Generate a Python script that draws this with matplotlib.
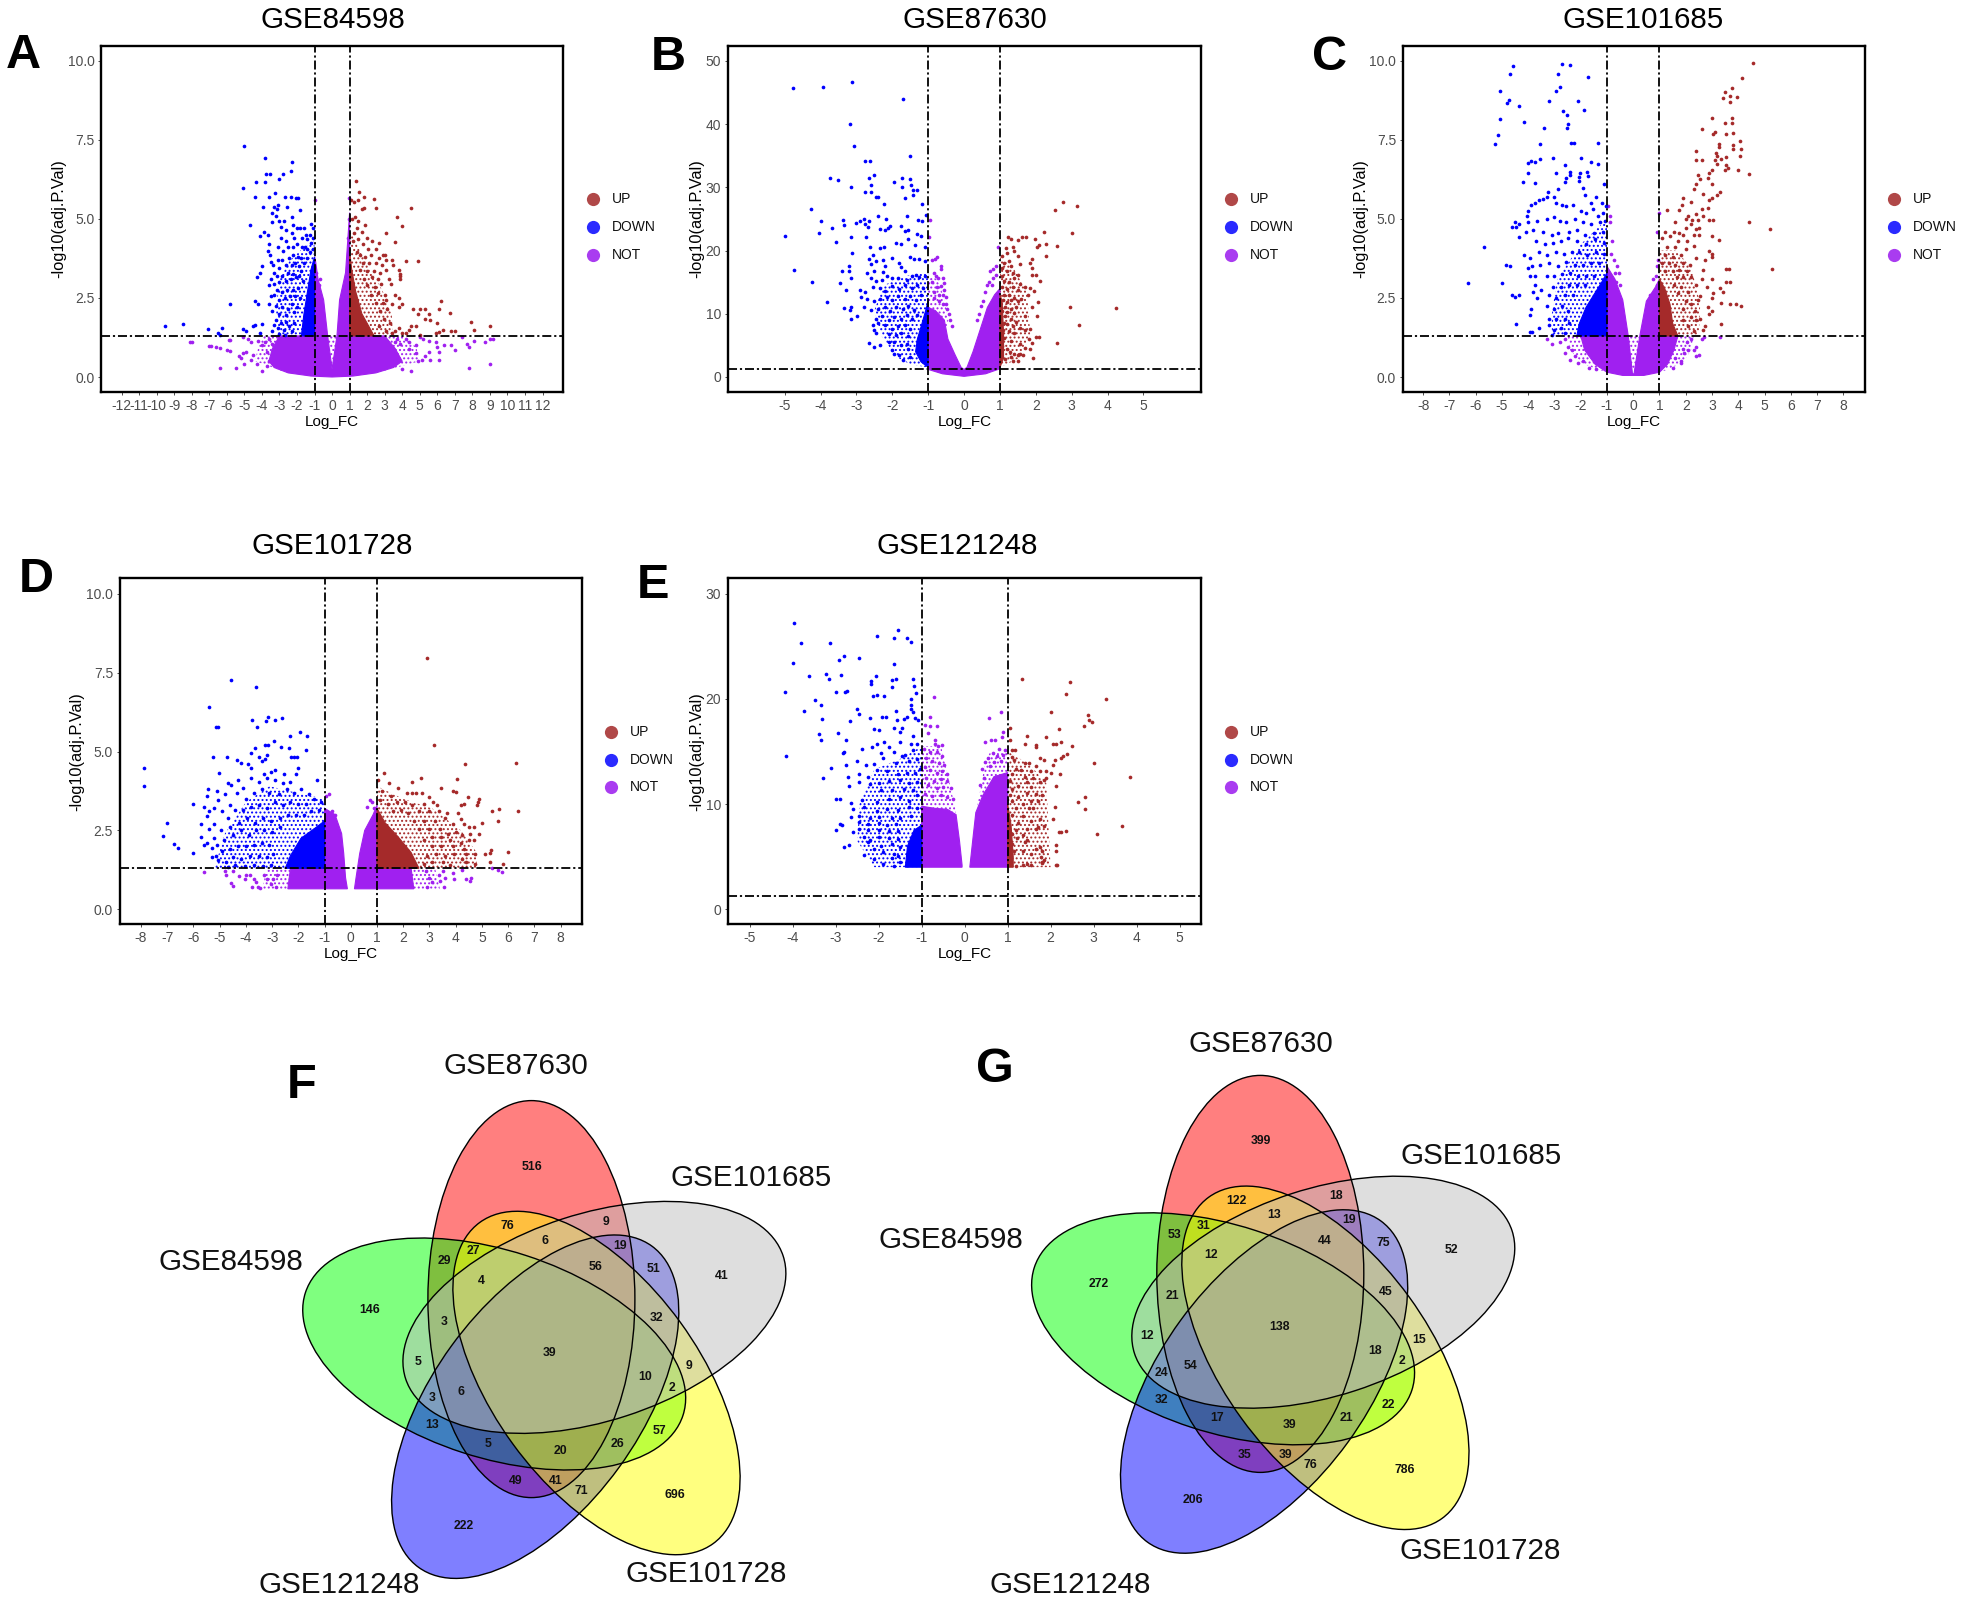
import numpy as np
import matplotlib
matplotlib.use('Agg')
import matplotlib.pyplot as plt
from matplotlib.lines import Line2D
from matplotlib.patches import Ellipse, Polygon

plt.rcParams['font.family'] = ['Liberation Sans', 'DejaVu Sans']
plt.rcParams['axes.unicode_minus'] = False
plt.rcParams['hatch.linewidth'] = 0.9

W, H = 1965, 1602
UP, DOWN, NOT = '#a52a2a', '#0000ff', '#a020f0'
LEG_UP, LEG_DOWN, LEG_NOT = '#b04848', '#2a2aff', '#a93cf0'

# ---- panel A: GSE84598 (log FC, -log10 p)
a_ticks_x = list(range(-12, 13))
a_ticks_y = [0, 2.5, 5, 7.5, 10]
a_not_fill = [(-3.6,.5),(-3.3,.3),(-2.5,.13),(-1.2,.03),(0,0),(1.2,.03),(2.5,.13),(3.5,.3),(4,.5),(3.6,.9),(3,1.3),(1,1.3),(1,5.2),
              (.93,4.6),(.77,3.3),(.43,2.44),(.28,1.3),(0,.25),(-.25,1.3),(-.48,2.44),(-.8,3.1),(-.95,3.7),(-1,3.8),(-1,1.3),(-3,1.3),(-3.4,.9)]
a_not_halo = [(-4.4,.5),(-3.6,.35),(-3,.2),(3,.2),(4,.35),(5,.5),(4.8,.95),(4,1.3),(-3.9,1.3),(-4.2,.95)]
a_down_fill = [(-1,1.3),(-1,3.8),(-1.2,3.4),(-1.4,2.7),(-1.6,2),(-1.75,1.3)]
a_down_halo = [(-1,1.3),(-1,4.3),(-1.6,4.1),(-2.4,3.7),(-3,3.1),(-3.2,2.2),(-3.1,1.3)]
a_up_fill = [(1,1.3),(1,4),(1.12,3.4),(1.35,2.7),(1.7,2),(2.1,1.6),(2.4,1.3)]
a_up_halo = [(1,1.3),(1,4.7),(1.5,4.1),(2.2,3.4),(2.9,2.7),(3.4,2),(3.5,1.3)]
a_not_dots = [(-8.1,1.1),(-8,1.1),(-7,.97),(-6.9,.97),(-6.6,.95),(-6.4,.92),(-6,.85),(-5.8,.83),(-5.9,1.18),(-5.8,1.17),(-5.1,1.27),(-4.8,1.2),(-4.6,1.1),
    (-4.2,1.15),(-4.9,.8),(-5.1,.75),(-5.2,.6),(-5.3,.68),(-4.5,.7),(-4.6,.55),(-4.3,.4),(-6.4,.3),(-5.5,.3),(-5,.42),(-4,.2),(-3.7,.35),(-3.6,.5),(-4,1),(-3.8,1.1),
    (-3.6,1.2),(-3.4,1.05),(-3.7,.8),(-.95,5.6),(-.9,3.3),(-.7,3.1),(-.72,2.9),(.95,5.65),(.97,5),(.9,4.4),(5,1.25),(5.2,1.2),(5.5,1.15),(5.9,1.1),(6,.95),
    (6.1,.8),(6.4,1),(6.8,1),(7,.85),(7.4,1.25),(7.7,1.05),(7.8,.95),(8.1,1.13),(8.7,1.1),(9.2,1.2),(9,1.2),(5.5,.8),(5.3,.65),(5.6,.55),(5.1,.55),(4.9,.5),(4.8,1),(4.4,.9),(4.2,1.2),
    (4.8,.75),(4.5,.2),(4,.25),(3.7,1.2),(3.6,1.1),(7.8,.27),(9,.42),(6.1,.55),(3.9,1.05),(4.4,1.1)]
a_down_dots = [(-5,7.3),(-3.8,6.93),(-2.3,6.8),(-2.33,6.52),(-2.78,6.43),(-3.75,6.43),(-3.55,6.43),(-3.05,6.25),(-4.34,6.16),(-3.84,6.16),(-5.06,5.98),(-3.26,5.83),
    (-4.37,5.7),(-3.58,5.7),(-2.66,5.7),(-2.35,5.68),(-2.06,5.66),(-1.92,5.66),(-3.96,5.37),(-3.3,5.37),(-3.1,5.43),(-3.15,5.3),(-3.4,5.2),(-3.2,5.1),(-2.55,5.37),(-1.8,5.27),
    (-3,4.95),(-2.75,4.95),(-2.3,5.05),(-3.4,4.9),(-4.7,4.8),(-3.9,4.6),(-3.65,4.5),(-4.1,4.45),(-2.9,4.75),(-2.6,4.65),(-2.2,4.8),(-2,4.7),(-1.85,4.7),(-1.6,4.7),(-1.2,4.85),
    (-1.1,4.7),(-2.9,4.4),(-2.6,4.3),(-2.3,4.55),(-2.15,4.4),(-1.7,4.4),(-1.5,4.5),(-1.4,4.35),(-1.25,4.5),(-1.1,4.4),(-1.2,4.25),(-3.6,4.2),(-3.65,4),(-3.55,3.85),(-3.5,3.65),
    (-3.1,4.1),(-2.8,4),(-2.5,4.1),(-2.2,4.1),(-2,4.2),(-1.7,4.1),(-1.55,4.1),(-1.4,4.05),(-1.25,3.95),(-1.1,4.05),(-4,3.5),(-4.1,3.3),(-4.3,3.15),(-3.35,3.55),(-3.3,3.3),(-3.1,3.7),
    (-3,3.45),(-2.85,3.7),(-2.65,3.55),(-2.45,3.75),(-2.25,3.85),(-2.3,3.55),(-2.1,3.6),(-1.95,3.8),(-1.9,3.5),(-1.75,3.75),(-1.6,3.6),(-1.45,3.75),(-3.5,3.1),(-3.6,2.9),(-3.3,2.95),
    (-3.15,3.2),(-3,3),(-2.85,3.2),(-2.65,3.05),(-2.5,3.3),(-2.35,3.1),(-2.2,3.25),(-2.05,3.15),(-1.9,3.2),(-1.75,3.35),(-1.65,3.05),(-3.5,2.55),(-3.3,2.6),(-3.15,2.75),(-3,2.45),(-2.85,2.7),
    (-2.7,2.5),(-2.55,2.75),(-2.4,2.55),(-2.25,2.75),(-2.1,2.55),(-1.95,2.8),(-1.85,2.5),(-5.8,2.3),(-4.2,2.3),(-4.4,2.4),(-3.6,2.3),(-3.4,2.1),(-3.2,2.25),(-3,2),(-2.85,2.2),(-2.65,1.95),
    (-2.5,2.15),(-2.3,2.3),(-2.15,2.05),(-2,2.2),(-9.5,1.6),(-8.5,1.68),(-7.1,1.52),(-6.3,1.54),(-6.5,1.4),(-6.4,1.33),(-5.1,1.52),(-4.9,1.45),(-4.5,1.6),(-4.4,1.65),(-4,1.68),(-4.1,1.4),
    (-3.2,1.8),(-3.3,1.65),(-3.1,1.55),(-3.4,1.45),(-2.9,1.7),(-2.75,1.5),(-2.6,1.75),(-2.45,1.6),(-2.3,1.45),(-2.15,1.7),(-3,1.35),(-2.7,1.33)]
a_up_dots = [(1.35,6.2),(1.55,5.85),(1.8,5.7),(1.5,5.6),(2.4,5.62),(1.25,5.55),(1.1,5.6),(1.7,5.3),(1.85,5.35),(2.5,5.35),(4.5,5.35),(3.7,5.07),(1.3,5.05),(1.15,5),(1.5,4.95),
    (1.9,4.8),(4,4.78),(1.4,4.7),(1.7,4.6),(1.25,4.55),(2,4.4),(3.1,4.55),(1.5,4.35),(1.2,4.3),(1.75,4.2),(2.3,4.3),(2.7,4.25),(3.6,4.28),(2.05,4.05),(2.5,4.05),(1.4,3.95),
    (2.9,3.85),(3,3.85),(1.6,3.85),(1.9,3.8),(2.2,3.85),(2.7,3.75),(3.1,3.7),(3.4,3.7),(4.2,3.68),(4.9,3.68),(1.75,3.6),(2.1,3.6),(2.5,3.6),(2.85,3.55),(3.45,3.55),(1.6,3.4),
    (2,3.35),(2.4,3.35),(2.75,3.3),(3.1,3.4),(3.8,3.4),(3.85,3.25),(3.9,3.1),(2.25,3.15),(1.85,3.1),(2.6,3.1),(3.25,3.1),(3.9,3.2),(2,2.9),(2.45,2.85),(2.8,2.95),(3,2.6),
    (3.35,2.95),(2.2,2.6),(2.6,2.65),(3.1,2.45),(3.4,2.3),(3.6,2.6),(2.9,2.35),(2.5,2.35),(2.75,2.1),(3.15,2.15),(3.8,2.5),(4,2.3),(3.8,2.2),(4.6,2.15),(5,2.15),(5.3,2.15),(4.9,2),
    (5.5,2),(5.3,1.85),(5.6,1.8),(6,1.7),(6.2,2.4),(6.1,2.15),(6.7,2.03),(7.9,1.73),(9,1.6),(8.1,1.5),(6.3,1.5),(6.8,1.45),(7,1.45),(5,1.32),(4.8,1.62),(4.5,1.6),(4.4,1.5),(4.2,1.4),
    (3.8,1.55),(3.6,1.45),(3.3,1.7),(3.05,1.45),(2.95,1.85),(2.7,1.6),(3.4,1.38),(4,1.38),(5.95,1.38),(6.1,1.43)]

# ---- panel B: GSE87630
b_ticks_x = list(range(-5, 6))
b_ticks_y = [0, 10, 20, 30, 40, 50]
b_not_fill = [(-1,1.2),(-.6,.5),(0,.1),(.6,.5),(1,1.3),(1,14),(.85,13),(.65,11),(.45,7.5),(.25,4),(.08,1.5),(0,1.2),(-.08,1.5),(-.25,3.5),(-.45,6),(-.55,9),(-.8,10.5),(-1,11)]
b_not_halo = [(-1,10.5),(-1,16),(-.75,15.5),(-.55,12.5),(-.45,9),(-.5,7)]
b_down_fill = [(-1,1.5),(-1,12),(-1.07,10.5),(-1.17,8.5),(-1.3,6),(-1.35,4),(-1.2,2.4)]
b_down_halo = [(-1,1.5),(-1,16.5),(-1.6,16),(-2.25,14.5),(-2.5,10.5),(-2.3,6.5),(-1.9,3.2),(-1.5,2)]
b_up_fill = [(1,1.5),(1,13),(1.06,12),(1.1,7),(1.1,3)]
b_up_halo = [(1,1.5),(1,19),(1.4,17),(1.75,13.5),(1.85,6.5),(1.55,3)]
b_not_dots = [(-.95,24.8),(-.97,22.2),(-.9,18.5),(-.8,18.7),(-.75,18.9),(-.65,17.5),(-.65,17),(-.85,16.5),(-.78,16),(-.72,15.6),(-.6,15.6),(-.55,14.8),(-.9,15),(-.75,14.3),(-.65,14.4),
    (-.55,13.8),(-.85,13.5),(-.7,13),(-.6,13),(-.5,12.6),(-.85,12.5),(-.7,12),(-.6,11.6),(-.5,11.5),(-.48,10.8),(-.42,10),(-.4,9),(-.35,8),(.95,20.5),(.9,17.6),(.82,17),(.72,16.8),(.88,16.2),(.8,15.6),(.7,15),(.63,14.6),
    (.78,14.5),(.58,13.4),(.52,12),(.48,11.2),(.42,10),(.36,9)]
b_down_dots = [(-4.76,45.7),(-3.94,45.8),(-3.12,46.6),(-1.71,44),(-3.18,40),(-3.06,36.5),(-2.77,34.2),(-2.63,34.1),(-1.52,34.9),(-3.74,31.4),(-3.5,31.1),(-3.14,30.1),(-2.66,31.5),(-2.5,32),
    (-2.6,30.4),(-2.77,29.2),(-2.6,29.3),(-2.46,28.5),(-2.41,28.4),(-1.95,30.9),(-1.74,30.1),(-1.72,31.5),(-1.51,31.3),(-1.48,30.4),(-1.42,29.6),(-1.3,29.5),(-1.43,28.8),(-1.65,28.3),(-2.22,27.4),
    (-1.18,27.3),(-4.26,26.6),(-1.07,25.6),(-1.6,25.4),(-2.4,25.5),(-2.17,25),(-4,24.6),(-3.38,24.9),(-3.35,24.1),(-3,24.3),(-2.9,24.6),(-2.8,25),(-2.65,24.6),(-2.77,24.2),(-2.68,23.7),(-3.67,23.5),
    (-4.03,22.7),(-5,22.3),(-3.15,22.2),(-2.74,22.2),(-3.58,21.4),(-2.34,23.4),(-2.2,23.2),(-2.06,23.9),(-2.12,23.5),(-1.76,23.9),(-1.65,23.1),(-1.57,23.2),(-1.28,24.8),(-1.18,24.7),(-1.3,22.6),
    (-1.2,22.3),(-1.89,21.2),(-1.75,21),(-1.57,21.9),(-1.38,20.9),(-1.1,20.6),(-3.12,19.6),(-2.63,20.6),(-2.33,20.4),(-2.23,20.6),(-2.53,19.3),(-2,18.8),(-1.5,19),(-1.4,18.6),(-1.25,18.6),(-1.1,18.4),
    (-4.74,16.9),(-4.24,15),(-3.82,11.9),(-3.41,16.8),(-3.2,17.6),(-3.2,16.7),(-3.14,15.6),(-3.47,14.9),(-3.28,13.8),(-2.87,12.6),(-3.34,10.9),(-3.14,11),(-3.18,10.6),(-3.14,9.2),(-2.97,9.7),
    (-2.65,18.7),(-2.6,17.8),(-2.45,18.3),(-2.25,18.5),(-2.2,17.5),(-1.8,18),(-1.75,17.4),(-1.65,16.8),(-2.7,16.5),(-2.5,16.8),(-2.25,16.6),(-2.6,15.7),(-2.45,15.2),(-2.3,15.3),(-2.15,15.9),(-2,15.7),
    (-1.85,15.6),(-1.6,15.3),(-1.45,15.9),(-1.35,16.1),(-1.25,15.8),(-1.1,16),(-2.9,13.8),(-2.75,13.5),(-2.55,14.2),(-2.35,14.1),(-2.2,13.6),(-2,14.4),(-1.8,13.9),(-1.65,14.5),(-1.45,14.1),(-1.3,14.6),(-1.15,14),
    (-2.7,12.3),(-2.5,12),(-2.35,12.4),(-2.15,12.7),(-2,12.1),(-1.85,12.8),(-1.65,12.3),(-1.5,12.8),(-1.35,12.2),(-1.2,13),(-2.8,11.1),(-2.6,10.6),(-2.4,10.8),(-2.2,11.1),(-2.05,10.4),(-1.9,11),(-1.7,10.8),
    (-1.55,11.2),(-1.4,10.6),(-2.45,9.2),(-2.3,9.7),(-2.1,9),(-1.95,9.5),(-1.75,9.2),(-1.6,9.8),(-1.45,9.1),(-1.3,9.8),(-2.55,8.2),(-2.4,8.5),(-2.2,8.2),(-2,7.6),(-1.85,8),(-1.65,8.2),(-1.5,7.6),
    (-2.5,7.5),(-2.45,6.9),(-2.1,6.8),(-1.9,6.6),(-1.75,7),(-1.55,6.5),(-2.65,5.4),(-2.5,4.8),(-2.35,5),(-2.1,5.5),(-1.95,5.5),(-1.75,5),(-1.6,5.2),(-2,4.2),(-1.95,3.7),(-1.8,3.4),(-1.7,2.7),(-1.5,3.2),(-1.55,4.5)]
b_up_dots = [(2.77,27.6),(3.15,27),(2.54,26.4),(2.24,23),(3.02,22.8),(2.6,20.7),(2.27,21.1),(2.28,19.1),(2.1,20.9),(2.02,20.6),(1.98,21.8),(1.72,22.2),(1.62,22.2),(1.49,21.6),(1.23,22.1),(1.3,21.8),
    (1.16,20.4),(1.35,20.5),(1.05,19.2),(1.2,19.6),(1.4,20),(1.5,19.1),(1.9,18.6),(1.85,18),(1.88,17.3),(1.25,18.3),(1.1,18.1),(1.05,17.3),(1.3,17.6),(1.55,17.9),(1.2,16.7),(1.35,16.4),(1.5,16.2),(1.9,16.2),(2,16.2),(1.05,16),
    (2.12,15.2),(1.1,15.2),(1.25,15),(1.4,15.6),(1.55,14.7),(1.7,14.2),(1.85,14),(1.05,14.3),(1.2,13.9),(1.35,14.2),(1.5,13.7),(1.95,13.6),(1.78,13),(1.1,13),(1.25,12.9),(1.4,12.5),(1.6,12.4),(1.08,12.2),(1.2,11.8),(1.32,12.1),(1.5,12),
    (2.05,11.8),(1.9,11),(1.15,11),(1.3,10.8),(1.45,11.1),(2.95,11.1),(4.23,10.9),(1.05,10.4),(1.2,10.2),(1.38,10.1),(2.03,9.7),(1.7,9.6),(1.15,9.6),(1.3,9.2),(1.1,8.6),(1.45,8.7),(1.2,8.3),(3.2,8.2),(1.35,8),(1.55,7.7),(1.7,7.5),(1.85,7.6),
    (1.08,7.5),(1.25,7.2),(1.4,7),(2,6.3),(2.08,6.3),(1.8,6),(1.1,6.2),(1.3,5.7),(1.55,5.2),(1.9,5.3),(2.58,5.4),(1.7,4.6),(1.85,4.4),(1.05,4.9),(1.2,4.5),(1.28,3.9),(1.4,3.7),(1.5,3.5),(1.55,3.7),(1.65,3.5),(1.3,3.2),(1.15,2.8),(1.92,3),(1.37,2.6),(1.5,2.6)]

# ---- panel C: GSE101685
c_ticks_x = list(range(-8, 9))
c_ticks_y = [0, 2.5, 5, 7.5, 10]
c_not_fill = [(-2,1.3),(-1.85,.85),(-1.45,.4),(-1,.15),(-.4,.05),(0,.05),(.4,.05),(1,.15),(1.3,.4),(1.55,.85),(1.7,1.3),(1,1.3),(1,3.1),(.85,2.85),(.5,2.4),(.25,1.3),(.03,.1),(-.03,.1),(-.19,1.3),(-.4,2.44),(-.7,3.1),(-1,3.5),(-1,1.3)]
c_not_halo = [(-2.5,1.3),(-2.4,.85),(-1.9,.4),(-1.2,.2),(1.2,.2),(1.9,.45),(2.2,.85),(2.3,1.3)]
c_down_fill = [(-1,1.3),(-1,3.3),(-1.2,3),(-1.5,2.6),(-1.8,2.2),(-2.05,1.7),(-2.15,1.3)]
c_down_halo = [(-1,1.3),(-1,5),(-2,4.2),(-2.9,3.1),(-3.1,2),(-3.1,1.3)]
c_up_fill = [(1,1.3),(1,3.1),(1.2,2.8),(1.4,2.3),(1.5,1.7),(1.7,1.3)]
c_up_halo = [(1,1.3),(1,4),(1.6,4),(2.2,3.5),(2.55,2.3),(2.5,1.3)]
c_not_dots = [(-.95,5.4),(-.9,5.1),(-.88,4.9),(-.8,4.3),(-.85,3.9),(-.75,3.7),(-.6,3.5),(-.7,3.3),(-.55,3.3),(-.65,3),(-.5,2.9),(1,5.2),(.9,4.6),(.95,3.7),(.9,3.5),(.85,3.2),(.75,3.1),(.9,2.9),(.65,2.6),
    (-3.3,1.2),(-3.1,1.05),(-2.8,1.1),(-2.6,1.2),(-2.5,.95),(-2.35,.85),(-2.6,.75),(-2.2,.65),(-2.1,.45),(-1.9,.5),(-1.7,.3),(-1.4,.25),(-2.4,.55),
    (3.3,1.25),(2.7,1.25),(2.2,1.2),(2.05,1.1),(2.4,.95),(2.3,.85),(2.5,.7),(2.4,.68),(1.9,.9),(2.1,.85),(1.8,.5),(1.8,.45),(1.6,.6),(1.95,.75),(1.5,.3),(2.6,1.2)]
c_down_dots = [(-4.58,9.85),(-4.68,9.6),(-5.08,9.04),(-4.74,8.77),(-4.79,8.68),(-4.36,8.57),(-5.06,8.15),(-4.17,8.06),(-5.14,7.66),(-5.26,7.38),(-2.72,9.9),(-2.4,9.86),(-2.88,9.6),(-1.71,9.48),(-2.79,9.16),
    (-2.96,9.04),(-3.22,8.74),(-2.1,8.74),(-2.69,8.43),(-1.86,8.45),(-2.52,8.29),(-2.48,8),(-2.53,7.87),(-3.4,7.87),(-3.56,7.38),(-2.37,7.4),(-2.26,7.4),(-1.33,7.4),(-3.06,6.93),(-3.56,6.9),(-3.88,6.84),(-3.99,6.78),
    (-3.75,6.79),(-1.99,6.93),(-1.62,6.81),(-1.36,6.75),(-2.61,6.71),(-4,6.45),(-2.96,6.46),(-2.42,6.48),(-2.39,6.4),(-2.02,6.45),(-2.05,6.34),(-1.76,6.49),(-1.71,6.36),(-2.56,6.29),(-2.6,6.18),(-4.2,6.16),(-3.73,6.14),
    (-2.05,6.2),(-1.92,5.97),(-1.1,6.12),(-2.85,5.95),(-3.25,5.85),(-3.3,5.7),(-3.45,5.62),(-3.6,5.6),(-3.75,5.5),(-3.9,5.45),(-4,5.25),(-4.05,5.1),(-3,5.7),(-2.95,5.5),(-2.7,5.45),(-2.55,5.4),(-2.3,5.45),(-1.85,5.75),(-1.6,5.5),(-1.4,5.7),
    (-1.2,5.5),(-1.05,5.4),(-2,5.25),(-1.8,5.2),(-1.55,5.3),(-1.35,5.1),(-1.15,5.2),(-4.5,4.9),(-4.45,4.75),(-4.6,4.75),(-4.35,4.85),(-4,4.9),(-3.65,4.95),(-3.3,5),(-3,5.05),(-2.8,4.95),(-2.55,4.9),(-2.2,5),(-1.9,4.9),(-1.6,4.85),
    (-1.25,4.9),(-1.08,4.95),(-4.35,4.42),(-4.1,4.6),(-3.8,4.65),(-3.45,4.6),(-3.1,4.5),(-2.85,4.55),(-2.45,4.6),(-2.15,4.65),(-1.85,4.5),(-1.5,4.55),(-1.15,4.6),(-3.7,4.3),(-3.35,4.2),(-3.05,4.25),(-2.75,4.3),(-2.5,4.4),(-2.15,4.3),(-1.8,4.2),
    (-1.45,4.35),(-1.1,4.25),(-5.7,4.12),(-4.15,3.85),(-3.95,3.75),(-3.6,3.95),(-3.3,3.85),(-2.95,3.95),(-2.65,3.9),(-2.35,3.95),(-2.05,3.95),(-1.75,3.85),(-1.4,3.95),(-1.1,3.9),(-4.85,3.55),(-4.7,3.5),(-4,3.45),(-3.85,3.5),(-3.55,3.55),(-3.2,3.6),
    (-2.85,3.5),(-2.55,3.65),(-2.2,3.55),(-1.9,3.55),(-1.6,3.6),(-1.3,3.6),(-3.95,3.2),(-3.75,3.2),(-3.3,3.2),(-3,3.2),(-2.7,3.25),(-2.4,3.3),(-2.1,3.2),(-1.8,3.2),(-1.5,3.2),(-6.3,2.98),(-5,2.98),(-3.75,2.9),(-3.5,2.75),(-3.05,2.85),(-2.75,2.85),(-2.45,2.9),
    (-2.15,2.9),(-1.85,2.9),(-4.6,2.58),(-4.5,2.52),(-4.35,2.6),(-3.8,2.7),(-3.65,2.5),(-3.2,2.6),(-2.95,2.5),(-2.6,2.6),(-2.3,2.6),(-3.9,2.15),(-3.3,2.25),(-3,2.15),(-2.7,2.25),(-2.5,2.1),(-3.95,1.95),(-3.2,1.85),(-2.95,1.85),(-2.6,1.85),(-2.45,1.7),
    (-4.45,1.67),(-3.6,1.55),(-3.2,1.65),(-3,1.5),(-2.75,1.55),(-3.95,1.42),(-3.85,1.42),(-3.1,1.32),(-2.6,1.4)]
c_up_dots = [(4.55,9.92),(4.15,9.45),(3.75,9.15),(3.5,9),(3.7,8.9),(3.95,8.85),(3.4,8.83),(3.7,8.7),(3,8.2),(3.75,8.2),(3.5,8.05),(3.75,8.05),(2.6,7.85),(3.1,7.75),(3.05,7.7),(3.55,7.7),(3.8,7.72),(4.05,7.45),(3.25,7.38),(3.8,7.35),(3.25,7.28),
    (4.1,7.2),(2.4,7.15),(3.8,7.22),(3.15,7.1),(3.2,7),(3.55,6.95),(4.05,7),(2.4,6.85),(2.6,6.85),(3.1,6.85),(3.35,6.9),(3.2,6.75),(3.55,6.7),(3.6,6.6),(3.5,6.55),(3,6.55),(4,6.55),(2.9,6.45),(4.4,6.42),(2.45,6.4),(2.85,6.3),(2.55,6.25),(3,6.12),(2.4,6.1),(2.3,5.95),
    (3.3,5.85),(2.65,5.8),(3.2,5.75),(1.9,5.65),(3,5.65),(2.9,5.6),(2.2,5.55),(1.85,5.45),(2.85,5.35),(2.6,5.3),(1.3,5.28),(1.75,5.28),(2.65,5.1),(2.4,5.15),(2.1,5.1),(2,5),(2.25,4.98),(2.45,4.98),(2.9,4.98),(3.05,4.98),(1.6,4.9),(2.2,4.85),(4.4,4.9),(2.5,4.7),(2.4,4.68),
    (5.2,4.68),(2,4.7),(1.2,4.6),(1.55,4.6),(1.75,4.55),(1.9,4.5),(2.3,4.5),(2.5,4.5),(1.1,4.4),(1.4,4.45),(1.7,4.3),(2.05,4.3),(3,4.45),(3.25,4.33),(1.3,4.1),(1.6,4.1),(2,4.05),(2.3,4.15),(2.9,4),(3,3.9),(1.2,3.85),(1.5,3.8),(1.8,3.85),(2.4,3.75),(2.75,3.7),(3,3.8),(1.1,3.6),
    (1.35,3.6),(1.6,3.55),(1.9,3.6),(2.15,3.55),(1.2,3.35),(1.5,3.35),(1.75,3.4),(2.05,3.35),(2.65,3.4),(3.55,3.42),(3.65,3.42),(5.3,3.42),(1.65,3.15),(1.9,3.15),(2.2,3.15),(2.6,3.1),(3,3.1),(3.7,3),(1.55,2.9),(1.8,2.85),(2.4,2.9),(2.8,2.85),(3.3,2.8),(3.4,2.7),(3.05,2.65),(3.55,3),
    (2.1,2.7),(1.7,2.65),(2.55,2.55),(3,2.5),(2,2.4),(2.45,2.45),(3.35,2.35),(3.7,2.3),(3.9,2.3),(4.1,2.25),(2.2,2.3),(2.85,2.2),(3,2.1),(1.9,2.15),(2.35,2.1),(2.9,2),(2.2,1.9),(2.55,1.85),(1.9,1.8),(2.4,1.8),(3.35,1.67),(2.1,1.6),(2.3,1.45),(2.65,1.5),(2.75,1.6)]

# ---- panel D: GSE101728
d_ticks_x = list(range(-8, 9))
d_ticks_y = [0, 2.5, 5, 7.5, 10]
d_not_fill = [(-2.4,.65),(-.13,.65),(-.2,1),(-.27,1.77),(-.35,2.4),(-.6,3),(-1,3.2),(-1,1.3),(-2.3,1.3)]
d_not_fill_r = [(2.4,.65),(.14,.65),(.2,1),(.34,1.77),(.53,2.5),(.85,3),(1,3.3),(1,1.3),(2.3,1.3)]
d_not_halo = [(-3.4,.65),(-2.3,.65),(-2.3,1.3),(-3.2,1.3)]
d_not_halo_r = [(3.4,.65),(2.3,.65),(2.3,1.3),(3.2,1.3)]
d_down_fill = [(-1,1.3),(-1,2.8),(-1.4,2.55),(-1.9,2.25),(-2.3,1.7),(-2.5,1.3)]
d_down_halo = [(-1,1.3),(-1,3.5),(-2.1,3.7),(-3.1,3.9),(-4,3.4),(-4.8,2.4),(-5.2,1.3)]
d_up_fill = [(1,1.3),(1,3.2),(1.3,2.75),(1.8,2.3),(2.3,1.8),(2.6,1.3)]
d_up_halo = [(1,1.3),(1,3.9),(2,3.5),(3.1,3.2),(4.2,2.5),(4.8,1.8),(4.8,1.3)]
d_not_dots = [(-.85,3.65),(-.95,3.6),(-.7,3.1),(-.6,3),(.72,3.45),(.8,3.4),(.6,3.25),(.88,3.2),(-5.6,1.17),(-4.8,1.2),(-4.75,1.1),(-4.55,.82),(-4.5,.75),(-4.25,1.05),(-4,1.1),(-4.05,.95),(-3.85,1.1),(-3.7,.95),(-3.6,.85),(-3.55,.7),
    (-3.45,.68),(-3.3,1.1),(-3.2,.95),(-3.05,.8),(-2.95,.95),(-2.8,1.1),(-2.85,.7),(-3.75,.72),(-4.5,1.2),(2.85,1.2),(3,1),(3.1,.85),(3.35,1.1),(3.4,.9),(3.5,1.2),(3.55,.7),(3.6,1),(2.9,.7),(3.9,1.15),(3.95,.95),(4.25,1.25),(4.4,.95),(4.6,1),(4.55,.9),(5.6,1.25),(5.75,1.18),(5.4,1.3)]
d_down_dots = [(-4.55,7.26),(-3.6,7.04),(-5.4,6.41),(-5.13,5.78),(-5.06,5.78),(-3.75,6),(-3.16,6.08),(-3.24,5.97),(-2.88,6),(-2.64,6.06),(-3.57,5.78),(-1.92,5.62),(-2.3,5.5),(-1.68,5.5),(-2.92,5.32),(-3.29,5.2),(-3.17,5.2),(-2.66,5.14),(-2.34,5.11),(-1.71,5.05),
    (-3.67,5.11),(-3.8,4.94),(-5.27,4.83),(-4.71,4.83),(-4.34,4.73),(-4.2,4.63),(-3.91,4.6),(-3.2,4.9),(-3.5,4.82),(-3.27,4.76),(-3.4,4.71),(-2.28,4.82),(-2.15,4.82),(-2.07,4.83),(-7.87,4.49),(-7.9,3.9),(-2.02,4.49),(-2.08,4.29),(-3.8,4.47),(-5.03,4.31),(-2.88,4.43),
    (-3.3,4.3),(-3.05,4.35),(-2.55,4.3),(-1.27,4.1),(-6,3.35),(-7.02,2.75),(-7.16,2.31),(-6.73,2.06),(-6.6,1.93),(-6,1.77),(-5.45,3.8),(-5.5,3.6),(-5.1,3.75),(-5.05,3.45),(-4.7,4),(-4.55,3.95),(-4.3,4.1),(-4.1,3.85),(-3.8,4.15),(-3.5,4.05),(-3.2,4.15),(-2.9,4.1),(-2.6,4),(-2.3,4.05),
    (-5.6,3.25),(-5.4,3.1),(-4.8,3.65),(-4.6,3.3),(-4.35,3.7),(-4,3.5),(-3.7,3.7),(-3.4,3.8),(-3.1,3.7),(-2.75,3.65),(-2.45,3.8),(-2.15,3.7),(-1.9,3.8),(-1.6,3.65),(-5.5,2.95),(-5.2,3.2),(-4.9,3.1),(-4.7,2.9),(-4.4,3.15),(-4.1,3.15),(-3.8,3.25),(-3.5,3.3),(-3.2,3.2),(-2.9,3.4),(-2.6,3.3),
    (-2.3,3.4),(-2,3.35),(-1.7,3.35),(-1.4,3.5),(-1.15,3.4),(-5.7,2.7),(-5.4,2.55),(-5.2,2.7),(-4.95,2.5),(-4.6,2.6),(-4.25,2.75),(-3.95,2.9),(-3.65,2.75),(-3.35,2.9),(-3.05,2.8),(-2.7,2.9),(-2.4,3),(-2.1,3),(-1.8,3),(-1.5,3.1),(-1.2,3.15),(-5.7,2.3),(-5.5,2.1),(-5.2,2.25),(-5.1,2.05),
    (-4.85,2.2),(-4.5,2.35),(-4.2,2.5),(-3.9,2.35),(-3.6,2.5),(-3.3,2.5),(-3,2.45),(-2.7,2.6),(-5.6,2.05),(-5.3,1.95),(-5.15,1.7),(-4.9,1.85),(-4.6,1.9),(-4.3,2),(-4,2),(-3.7,2.05),(-3.4,2.1),(-3.1,2.05),(-5.3,1.65),(-5.05,1.55),(-4.75,1.5),(-4.5,1.65),(-4.2,1.6),(-3.85,1.7),(-3.5,1.7),
    (-3.2,1.65),(-2.95,1.75),(-4.7,1.35),(-4.4,1.42),(-4.05,1.38),(-3.7,1.4),(-3.35,1.38),(-3.05,1.4)]
d_up_dots = [(2.92,7.98),(3.19,5.2),(4.34,4.59),(6.3,4.63),(6.39,3.13),(1.25,4.33),(2.68,4.15),(4.05,4.12),(1.05,4.1),(1.45,4),(2.35,4.03),(1.8,3.85),(3.45,3.85),(4,3.72),(3.9,3.75),(4.45,3.55),(4.9,3.5),(4.85,3.4),(2.5,3.7),(2.7,3.7),(2.15,3.7),(2.35,3.7),(1.2,3.75),(1.55,3.6),(3,3.55),
    (1.1,3.45),(1.4,3.35),(1.75,3.4),(2.05,3.4),(2.35,3.3),(2.8,3.35),(3.15,3.4),(3.3,3.3),(4.3,3.35),(4.2,3.3),(4.8,3.3),(5.65,3.18),(5.4,3.1),(1.6,3.1),(1.9,3.15),(2.2,3.05),(2.6,3.1),(3,3.1),(3.35,3.1),(3.65,3.05),(4.1,3.05),(4.2,2.85),(5.6,2.8),(5,2.75),(2.4,2.8),(2.8,2.8),(3.2,2.8),(3.6,2.9),
    (3.9,2.7),(4.3,2.7),(4.5,2.6),(4.7,2.6),(2.6,2.55),(3,2.55),(3.4,2.55),(3.7,2.4),(4,2.45),(4.25,2.35),(4.55,2.4),(4.9,2.4),(3.1,2.3),(3.45,2.3),(3.8,2.2),(2.8,2.2),(4.2,2.1),(4.5,2.2),(4.7,2.2),(3.1,2),(3.45,2),(3.9,2),(4.3,1.9),(4.4,1.75),(4.75,1.75),(5.1,1.75),(5.3,1.8),(5.35,1.88),(6,1.83),
    (2.9,1.7),(3.25,1.75),(3.6,1.7),(3.95,1.75),(4.25,1.6),(2.8,1.45),(3.1,1.5),(3.5,1.5),(3.8,1.4),(4.4,1.5),(4.75,1.45),(5.3,1.5),(5.8,1.45)]

# ---- panel E: GSE121248
e_ticks_x = list(range(-5, 6))
e_ticks_y = [0, 10, 20, 30]
e_not_fill = [(-1,4),(-1,9.8),(-.7,9.6),(-.4,9.5),(-.2,9),(-.12,6.5),(-.06,4.2),(-.06,4)]
e_not_fill_r = [(.12,4),(.2,7),(.26,9.2),(.42,10.8),(.68,12.6),(1,13),(1,4)]
e_not_halo = [(-1,9.7),(-1,15.5),(-.55,15.5),(-.35,12),(-.2,9.2)]
e_not_halo_r = [(.26,9),(.48,14),(.6,15),(1,15),(1,12.8)]
e_down_fill = [(-1,4),(-1,8),(-1.18,7.5),(-1.33,6),(-1.38,4)]
e_down_halo = [(-1,4),(-1,15.5),(-1.5,14.3),(-2.1,13.3),(-2.45,10),(-2.5,6.5),(-2.1,4)]
e_up_fill = [(1,4),(1,10),(1.08,8),(1.13,5),(1.13,4)]
e_up_halo = [(1,4),(1,15),(1.5,13.8),(1.9,12),(2,4)]
e_not_dots = [(-.72,20.2),(-.8,18.3),(-.92,17.5),(-.8,17.4),(-.65,17.4),(-.85,16.8),(-.7,16.1),(-.68,15.7),(-.62,15.5),(-.52,15.6),(-.95,15.2),(-.8,15),(-.65,15),(-.52,14.6),(-.9,14.4),(-.75,14.1),(-.6,13.9),(-.48,13.7),(-.92,13.5),(-.8,13.2),
    (-.65,13),(-.52,13.1),(-.4,12.9),(-.9,12.5),(-.72,12.2),(-.55,12.4),(-.4,12.2),(-.85,11.8),(-.65,11.5),(-.5,11.6),(-.32,11.5),(-.92,11),(-.75,10.8),(-.55,10.9),(-.4,10.7),(-.28,10.5),
    (.57,18.2),(.85,18.8),(.9,16.9),(.88,16.4),(.7,16.1),(.62,16.1),(.48,15.9),(.93,15.1),(.8,15.2),(.65,14.9),(.9,14.7),(.75,14.6),(.55,14.4),(.47,14),(.85,14.1),(.68,14),(.58,13.6),(.4,13.3),(.45,12.5),(.35,11.8)]
e_down_dots = [(-3.97,27.2),(-3.8,25.3),(-3.14,25.3),(-3.99,23.4),(-3.63,22.2),(-3.22,22.4),(-3.15,21.9),(-2.88,22.3),(-2.93,23.7),(-2.81,24.1),(-2.45,23.9),(-2.04,26),(-1.64,25.8),(-1.54,26.6),(-1.34,25.8),(-1.26,25.4),(-1.65,23.3),(-2.07,22.2),(-2.19,21.7),(-2.18,21.4),
    (-1.68,21.8),(-1.59,21.9),(-1.21,21.9),(-1.19,21.2),(-1.69,21.1),(-4.17,20.7),(-2.99,20.7),(-2.79,20.7),(-2.73,20.8),(-1.13,20.6),(-2.14,20.3),(-2.05,20.4),(-1.87,20.3),(-3.48,19.9),(-3.34,19.4),(-3.75,18.9),(-1.26,20),(-1.26,19.4),(-1.26,19),(-1.2,18.8),(-2.51,19),(-2.46,18.6),(-2.2,18.2),
    (-1.93,18.3),(-1.84,18.3),(-3.32,18.1),(-2.67,17.9),(-1.6,18.9),(-1.57,18),(-1.4,18.1),(-1.35,18.3),(-1.15,18.2),(-1.08,18),(-3.4,16.7),(-3.35,16.1),(-2.95,16.8),(-2.77,16.1),(-4.16,14.6),(-2.81,15),(-2.83,14.9),(-3.12,13.4),(-3.29,12.5),
    (-2.1,17.1),(-2,17),(-1.65,17.2),(-1.45,17.2),(-1.5,16.9),(-1.2,16.5),(-2.4,15.2),(-2.15,15.4),(-2.05,15.7),(-1.88,15.9),(-1.75,15.4),(-1.5,15.9),(-1.25,15.7),(-1.1,15.7),(-1.95,14.9),(-1.65,15),(-1.45,14.6),(-1.38,14.7),(-1.2,15.1),(-2.5,14.1),(-2.3,13.7),(-2.1,13.8),
    (-1.9,14.4),(-1.6,13.9),(-1.3,14.1),(-1.12,14.3),(-2.75,13.7),(-2.45,12.9),(-2.25,12.6),(-2.05,13.2),(-1.8,13.1),(-1.55,12.9),(-1.35,13),(-1.15,13),(-1.05,13.3),(-2.72,12.6),(-2.45,12.1),(-2.2,11.9),(-2,12),(-1.75,12.2),(-1.5,12.3),(-1.3,12),(-1.1,12.1),
    (-2.7,11.7),(-1.95,11.3),(-1.7,11.3),(-1.4,11.4),(-1.2,11.3),(-3,10.5),(-2.9,10.5),(-2.65,10.1),(-2.4,10.4),(-2.05,10.2),(-1.75,10.5),(-1.5,10.7),(-1.3,10.3),(-1.1,10.9),(-2.6,9.5),(-2.35,9.7),(-2.05,9.3),(-1.8,9.5),(-1.55,9.4),(-1.3,9.7),(-1.1,9.6),
    (-2.65,8.8),(-2.45,8.9),(-2.2,8.7),(-2,8.8),(-1.7,8.7),(-1.5,8.7),(-1.25,8.9),(-2.9,8.1),(-2.85,8),(-2.45,8.3),(-2.25,8.1),(-2,8.2),(-1.8,8),(-1.6,8.1),(-3,7.5),(-2.6,7.3),(-2.45,7.6),(-2.25,7.5),(-2,7.5),(-1.75,7.4),(-1.55,7.4),(-2.35,6.9),(-2.2,6.6),(-2,6.9),
    (-1.75,6.8),(-1.55,6.7),(-2.25,6.4),(-1.95,6),(-1.7,6.2),(-1.5,5.9),(-2.8,5.9),(-2.7,6.1),(-2.35,5.2),(-2.1,5.7),(-1.9,5.4),(-1.65,5.3),(-1.55,5.1),(-2.12,4.8),(-1.9,4.3),(-1.7,4.9),(-1.65,4.1),(-1.5,4.5),(-1.35,4.2),(-1.3,4.8)]
e_up_dots = [(1.34,21.9),(2.46,21.6),(2.37,20.5),(3.28,20),(2,18.8),(2.87,18.5),(2.9,18),(2.97,17.8),(2.77,17.4),(1.05,17.2),(2.2,17.1),(1.45,16.5),(1.9,16.4),(1.05,16.1),(2.25,15.9),(2.05,15.7),(2.12,15.7),(1.65,15.6),(1.4,15.7),(1.65,15.4),(2.5,15.5),(1.1,15.1),(1.18,15.1),
    (1.1,14.5),(1.15,14.2),(2.1,14.2),(2.3,14.6),(2.38,14.8),(2.25,14.4),(1.75,14.4),(1.85,14.2),(3,13.9),(1.4,13.9),(1.5,13.9),(1.65,13.6),(2.05,13.7),(1.2,13.3),(1.3,13.2),(1.55,13.1),(1.75,13.1),(1.9,13.1),(2,13),(1.1,12.9),(2.22,12.9),(1.4,12.6),(1.6,12.5),(1.9,12.5),
    (3.85,12.6),(1.05,12.2),(1.45,12.1),(1.75,12.1),(1.85,12.3),(1.25,11.7),(1.55,11.6),(2.13,11.7),(1.1,11.4),(1.45,11.1),(1.65,11),(1.8,10.9),(1.05,10.9),(1.25,10.7),(2.63,10.2),(2.8,10.7),(1.55,10.3),(1.7,10.3),(1.1,10.3),(1.35,10),(2.1,9.7),(1.2,9.6),(1.5,9.6),(1.6,9.6),(2.8,9.5),
    (1.1,9),(1.35,8.9),(1.75,8.6),(1.55,8.4),(2.05,8.6),(3.65,7.9),(1.25,8.2),(1.45,7.6),(1.7,7.8),(1.85,7.9),(1.65,7.6),(1.2,7.5),(1.35,7.1),(1.1,7.2),(2.2,7.3),(2.25,7.3),(2.35,7.4),(3.07,7.2),(1.45,6.6),(1.4,6.4),(1.22,6.8),(1.1,6.2),(2.12,6.1),(1.75,5.9),(1.65,5.7),(1.8,5.5),(2.12,5.5),
    (1.15,5.5),(1.35,5.5),(1.55,5.3),(1.78,5),(1.85,4.7),(1.8,4.5),(2.12,4.2),(2.16,4.2),(1.05,4.5),(1.2,4.1),(1.35,4.2),(1.45,4.3),(1.55,4.2),(1.8,4.4)]

# ---- venn diagrams F and G
venn_names = ['GSE87630', 'GSE101685', 'GSE84598', 'GSE121248', 'GSE101728']
venn_f_counts = ['516','9','76','6','19','27','29','56','51','41','4','146','3','32','39','5','9','10','2','6','3','13','57','5','26','20','49','41','71','696','222']
venn_g_counts = ['399','18','122','13','19','31','53','44','75','52','12','272','21','45','138','12','15','18','2','54','24','32','22','17','21','39','35','39','76','786','206']

# positions below were read on zoomed crops of the image
venn_f_text_x = [731,948,660,769,988,563,478,917,1084,1283,586,260,477,1093,784,402,1188,1061,1139,526,441,441,1101,603,979,813,684,801,874,1148,534]
venn_f_text_y = [354,508,520,560,575,590,617,632,640,658,672,754,786,776,873,897,910,940,970,981,999,1075,1092,1127,1127,1147,1229,1229,1259,1270,1355]
venn_g_text_x = [728,947,658,768,985,561,477,914,1083,1283,585,258,473,1091,783,399,1188,1059,1137,524,439,439,1099,601,976,811,682,801,873,1145,532]
venn_g_text_y = [326,475,487,525,539,555,579,595,602,620,633,712,743,733,828,852,863,892,920,933,950,1023,1038,1073,1073,1092,1171,1171,1200,1212,1293]

# drawing order matters for the blended colours
ellipse_order = ['#ff0000', '#00ff00', '#0000ff', '#ffff00', '#bebebe']
ellipse_cx = [531.4, 494.2, 535.2, 596.5, 594.4]
ellipse_cy = [1299.1, 1354.0, 1406.7, 1383.0, 1317.4]
ellipse_angle = [90, 18, 126, 54, -18]


def px_axes(fig, left, top, right, bottom):
    return fig.add_axes([left / W, 1 - bottom / H, (right - left) / W, (bottom - top) / H])


def draw_volcano(fig, box, title, title_xy, xlim, ylim, xticks, yticks, yfmt, not_fills, not_halos, down_fill, down_halo,
                 up_fill, up_halo, not_dots, down_dots, up_dots, ylab_x, leg_x, leg_y):
    ax = px_axes(fig, *box)
    # speckled zones where the points are too many to read one by one
    for halo, col in [(h, NOT) for h in not_halos] + [(down_halo, DOWN), (up_halo, UP)]:
        ax.add_patch(Polygon(halo, closed=True, fc='none', ec=col, lw=0, hatch='....', zorder=1))
    for fill in not_fills:
        ax.add_patch(Polygon(fill, closed=True, fc=NOT, ec=NOT, lw=0.8, zorder=1.5))
    ax.add_patch(Polygon(down_fill, closed=True, fc=DOWN, ec=DOWN, lw=0.8, zorder=1.5))
    ax.add_patch(Polygon(up_fill, closed=True, fc=UP, ec=UP, lw=0.8, zorder=1.5))
    for dots, col in [(not_dots, NOT), (down_dots, DOWN), (up_dots, UP)]:
        pts = np.array(dots)
        ax.scatter(pts[:, 0], pts[:, 1], s=7, c=col, linewidths=0, zorder=2)

    dash = (0, (5, 1.6, 1.2, 1.6))
    ax.axhline(1.3, color='black', lw=1.3, ls=dash, zorder=3)
    ax.axvline(-1, color='black', lw=1.3, ls=dash, zorder=3)
    ax.axvline(1, color='black', lw=1.3, ls=dash, zorder=3)

    ax.set_xlim(*xlim)
    ax.set_ylim(*ylim)
    ax.set_xticks(xticks)
    ax.set_yticks(yticks)
    ax.set_yticklabels([yfmt % v for v in yticks])
    ax.tick_params(labelsize=10, length=2, width=0.7, pad=3, colors='#4d4d4d')
    for sp in ax.spines.values():
        sp.set_linewidth(1.7)
    ax.set_xlabel('Log_FC', fontsize=11)
    ax.xaxis.set_label_coords(0.5, -23 / (box[3] - box[1]))
    ax.set_ylabel('-log10(adj.P.Val)', fontsize=11.8)
    ax.yaxis.set_label_coords((ylab_x + 6 - box[0]) / (box[2] - box[0]), 0.5)

    fig.text(title_xy[0] / W, 1 - (title_xy[1] + 2.5) / H, title, fontsize=21.3, ha='center', va='center')
    for label, col, y in zip(['UP', 'DOWN', 'NOT'], [LEG_UP, LEG_DOWN, LEG_NOT], leg_y):
        fig.add_artist(Line2D([leg_x / W], [1 - y / H], marker='o', ms=9.5, mfc=col, mec=col, mew=0, ls='none'))
        fig.text((leg_x + 19) / W, 1 - y / H, label, fontsize=10, ha='left', va='center', color='#111111')
    return ax


def draw_venn(ax, dx, dy, counts, crop, text_x, text_y, names, name_xy):
    for col, cx, cy, ang in zip(ellipse_order, ellipse_cx, ellipse_cy, ellipse_angle):
        ax.add_patch(Ellipse((cx + dx, cy + dy), 397, 207, angle=ang, fc=matplotlib.colors.to_rgba(col, 0.5), ec='none'))
    for cx, cy, ang in zip(ellipse_cx, ellipse_cy, ellipse_angle):
        ax.add_patch(Ellipse((cx + dx, cy + dy), 397, 207, angle=ang, fc='none', ec='black', lw=1.0))
    ox, oy, sx, sy = crop
    for c, zx, zy in zip(counts, text_x, text_y):
        ax.text(ox + zx / sx, oy + zy / sy, c, fontsize=8.8, fontweight='bold', ha='center', va='center', color='#111111')
    for name, (x, y) in zip(names, name_xy):
        ax.text(x, y + 1, name, fontsize=21.3, ha='center', va='center', color='#111111')


fig = plt.figure(figsize=(W / 100, H / 100), dpi=100)

draw_volcano(fig, (101.4, 45.7, 562.7, 391.7), 'GSE84598', (333, 18), (-13.15, 13.15), (-0.465, 10.48), a_ticks_x, a_ticks_y, '%.1f',
             [a_not_fill], [a_not_halo], a_down_fill, a_down_halo, a_up_fill, a_up_halo, a_not_dots, a_down_dots, a_up_dots, 60, 592.6, (199.3, 227.3, 254.7))
draw_volcano(fig, (728.3, 45.7, 1200.9, 391.7), 'GSE87630', (975, 18), (-6.57, 6.6), (-2.33, 52.4), b_ticks_x, b_ticks_y, '%d',
             [b_not_fill], [b_not_halo], b_down_fill, b_down_halo, b_up_fill, b_up_halo, b_not_dots, b_down_dots, b_up_dots, 698, 1231, (199.3, 227.3, 254.7))
draw_volcano(fig, (1403, 45.7, 1864.8, 391.7), 'GSE101685', (1643, 18), (-8.77, 8.82), (-0.465, 10.48), c_ticks_x, c_ticks_y, '%.1f',
             [c_not_fill], [c_not_halo], c_down_fill, c_down_halo, c_up_fill, c_up_halo, c_not_dots, c_down_dots, c_up_dots, 1362, 1894, (199.3, 227.3, 254.7))
draw_volcano(fig, (120, 578, 581.6, 924.3), 'GSE101728', (332.5, 544), (-8.8, 8.8), (-0.475, 10.5), d_ticks_x, d_ticks_y, '%.1f',
             [d_not_fill, d_not_fill_r], [d_not_halo, d_not_halo_r], d_down_fill, d_down_halo, d_up_fill, d_up_halo, d_not_dots, d_down_dots, d_up_dots, 78.7, 611, (731.7, 759.7, 787))
draw_volcano(fig, (728.3, 578, 1201, 924.3), 'GSE121248', (957, 544), (-5.5, 5.5), (-1.43, 31.5), e_ticks_x, e_ticks_y, '%d',
             [e_not_fill, e_not_fill_r], [e_not_halo, e_not_halo_r], e_down_fill, e_down_halo, e_up_fill, e_up_halo, e_not_dots, e_down_dots, e_up_dots, 698, 1231, (731.7, 759.7, 787))

# full figure overlay in image pixels for the venns and panel letters
over = fig.add_axes([0, 0, 1, 1], facecolor='none')
over.set_xlim(0, W)
over.set_ylim(H, 0)
over.set_axis_off()

draw_venn(over, 0, 0, venn_f_counts, (280, 1040, 2.904, 2.79), venn_f_text_x, venn_f_text_y, venn_names,
          [(516, 1065), (751, 1177), (230.6, 1261), (339.6, 1584), (706, 1573)])
draw_venn(over, 728.9, -25.2, venn_g_counts, (1010, 1020, 2.904, 2.694), venn_g_text_x, venn_g_text_y, venn_names,
          [(1261, 1043), (1481, 1155.5), (951, 1239), (1070, 1584), (1480, 1550)])

letters = ['A', 'B', 'C', 'D', 'E', 'F', 'G']
letters_x = [23, 668.5, 1330, 36, 653, 302, 995]
letters_y = [55, 58, 57, 580, 585, 1086, 1070]
for s, x, y in zip(letters, letters_x, letters_y):
    over.text(x, y, s, fontsize=35, fontweight='bold', ha='center', va='center', color='black')

fig.savefig('out.png', dpi=100)
